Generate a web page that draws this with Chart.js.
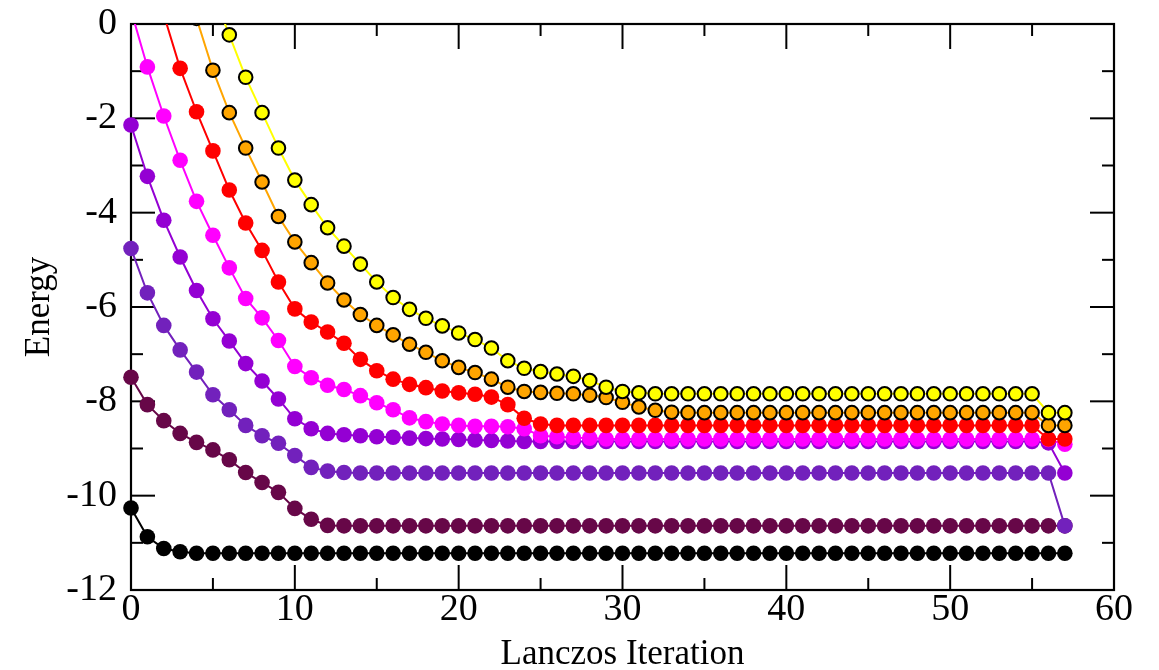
<!DOCTYPE html>
<html><head><meta charset="utf-8">
<script src="https://cdn.jsdelivr.net/npm/chart.js@4.4.0/dist/chart.umd.min.js"></script>
<style>html,body{margin:0;padding:0;background:#fff;}#wrap{width:1159px;height:670px;}</style>
</head><body><div id="wrap"><canvas id="c" width="1159" height="670"></canvas></div>
<script>
const iterations = [0,1,2,3,4,5,6,7,8,9,10,11,12,13,14,15,16,17,18,19,20,21,22,23,24,25,26,27,28,29,30,31,32,33,34,35,36,37,38,39,40,41,42,43,44,45,46,47,48,49,50,51,52,53,54,55,56,57];

const eig0 = [-10.26,-10.87,-11.12,-11.19,
 -11.22,-11.22,-11.22,-11.22,-11.22,-11.22,-11.22,-11.22,-11.22,-11.22,
 -11.22,-11.22,-11.22,-11.22,-11.22,-11.22,-11.22,-11.22,-11.22,-11.22,
 -11.22,-11.22,-11.22,-11.22,-11.22,-11.22,-11.22,-11.22,-11.22,-11.22,
 -11.22,-11.22,-11.22,-11.22,-11.22,-11.22,-11.22,-11.22,-11.22,-11.22,
 -11.22,-11.22,-11.22,-11.22,-11.22,-11.22,-11.22,-11.22,-11.22,-11.22,
 -11.22,-11.22,-11.22,-11.22];

const eig1 = [-7.49,-8.07,-8.41,-8.68,-8.87,-9.03,-9.24,-9.51,-9.72,-9.93,-10.27,-10.50,-10.63,
 -10.64,-10.64,-10.64,-10.64,-10.64,-10.64,-10.64,-10.64,-10.64,-10.64,
 -10.64,-10.64,-10.64,-10.64,-10.64,-10.64,-10.64,-10.64,-10.64,-10.64,
 -10.64,-10.64,-10.64,-10.64,-10.64,-10.64,-10.64,-10.64,-10.64,-10.64,
 -10.64,-10.64,-10.64,-10.64,-10.64,-10.64,-10.64,-10.64,-10.64,-10.64,
 -10.64,-10.64,-10.64,-10.64,-10.64];

const eig2 = [-4.76,-5.70,-6.39,-6.91,-7.38,-7.86,-8.18,-8.51,-8.73,-8.89,-9.15,-9.40,-9.48,-9.51,
 -9.52,-9.52,-9.52,-9.52,-9.52,-9.52,-9.52,-9.52,-9.52,-9.52,
 -9.52,-9.52,-9.52,-9.52,-9.52,-9.52,-9.52,-9.52,-9.52,-9.52,
 -9.52,-9.52,-9.52,-9.52,-9.52,-9.52,-9.52,-9.52,-9.52,-9.52,
 -9.52,-9.52,-9.52,-9.52,-9.52,-9.52,-9.52,-9.52,-9.52,-9.52,
 -9.52,-9.52,-9.52,
 -10.64];

const eig3 = [-2.14,-3.23,-4.16,-4.94,-5.65,-6.25,-6.72,-7.20,-7.57,-7.95,-8.37,-8.58,-8.68,-8.71,-8.73,-8.75,-8.76,-8.78,-8.79,-8.80,-8.81,-8.82,-8.83,-8.84,
 -8.85,-8.85,-8.85,-8.85,-8.85,-8.85,-8.85,-8.85,-8.85,-8.85,
 -8.85,-8.85,-8.85,-8.85,-8.85,-8.85,-8.85,-8.85,-8.85,-8.85,
 -8.85,-8.85,-8.85,-8.85,-8.85,-8.85,-8.85,-8.85,-8.85,-8.85,
 -8.85,-8.85,
 -8.88,-9.52];

const eig4 = [0.29,-0.91,-1.95,-2.89,-3.76,-4.48,-5.17,-5.82,-6.23,-6.71,-7.26,-7.50,-7.66,-7.75,-7.88,-8.03,-8.18,-8.35,-8.43,-8.48,-8.51,-8.53,-8.53,-8.54,-8.58,-8.73,-8.75,-8.77,-8.78,
 -8.80,-8.80,-8.80,-8.80,-8.80,-8.80,-8.80,-8.80,-8.80,-8.80,
 -8.80,-8.80,-8.80,-8.80,-8.80,-8.80,-8.80,-8.80,-8.80,-8.80,
 -8.80,-8.80,-8.80,-8.80,-8.80,-8.80,-8.80,
 -8.81,-8.91];

const eig5 = [null,null,0.20,-0.94,-1.86,-2.69,-3.52,-4.22,-4.80,-5.47,-6.04,-6.32,-6.53,-6.77,-7.11,-7.35,-7.53,-7.64,-7.71,-7.78,-7.82,-7.85,-7.91,-8.07,-8.36,-8.48,
 -8.51,-8.51,-8.51,-8.51,-8.51,-8.51,-8.51,-8.51,-8.51,-8.51,
 -8.51,-8.51,-8.51,-8.51,-8.51,-8.51,-8.51,-8.51,-8.51,-8.51,
 -8.51,-8.51,-8.51,-8.51,-8.51,-8.51,-8.51,-8.51,-8.51,-8.51,
 -8.80,-8.80];

const eig6 = [null,null,null,null,0.12,-0.98,-1.88,-2.63,-3.35,-4.08,-4.62,-5.06,-5.49,-5.85,-6.16,-6.39,-6.59,-6.79,-6.96,-7.14,-7.28,-7.39,-7.53,-7.70,-7.79,-7.81,-7.83,-7.84,-7.87,-7.92,-8.02,-8.12,-8.19,-8.23,
 -8.24,-8.24,-8.24,-8.24,-8.24,-8.24,-8.24,-8.24,-8.24,-8.24,
 -8.24,-8.24,-8.24,-8.24,-8.24,-8.24,-8.24,-8.24,-8.24,-8.24,
 -8.24,-8.24,
 -8.51,-8.51];

const eig7 = [null,null,null,null,null,0.65,-0.23,-1.13,-1.88,-2.63,-3.31,-3.83,-4.32,-4.71,-5.09,-5.47,-5.80,-6.05,-6.24,-6.40,-6.55,-6.69,-6.87,-7.14,-7.30,-7.37,-7.42,-7.47,-7.56,-7.70,-7.79,-7.82,
 -7.84,-7.84,-7.84,-7.84,-7.84,-7.84,-7.84,-7.84,-7.84,-7.84,
 -7.84,-7.84,-7.84,-7.84,-7.84,-7.84,-7.84,-7.84,-7.84,-7.84,
 -7.84,-7.84,-7.84,-7.84,
 -8.24,-8.24];

const xMajorTicks = [0,10,20,30,40,50,60];
const xMinorTicks = [5,15,25,35,45,55];
const yMajorTicks = [-12,-10,-8,-6,-4,-2,0];
const yMinorTicks = [-11,-9,-7,-5,-3,-1];

const seriesValues = [eig0,eig1,eig2,eig3,eig4,eig5,eig6,eig7];
const seriesColors = ['#000000','rgb(103,7,72)','rgb(114,33,188)','rgb(148,0,211)','#ff00ff','#ff0000','rgb(255,165,0)','#ffff00'];
const seriesOutlined = [false,false,false,false,false,false,true,true];

const FONT = "'Liberation Serif', 'DejaVu Serif', serif";

const datasets = seriesValues.map((vals, i) => ({
  label: 'E' + i,
  data: iterations.map((x, k) => ({x: x, y: vals[k]})),
  borderColor: seriesColors[i],
  backgroundColor: seriesColors[i],
  borderWidth: 2,
  pointRadius: seriesOutlined[i] ? 6.8 : 7.8,
  pointBorderWidth: seriesOutlined[i] ? 2 : 0,
  pointBorderColor: seriesOutlined[i] ? '#000000' : seriesColors[i],
  pointBackgroundColor: seriesColors[i],
  pointHoverRadius: seriesOutlined[i] ? 6.8 : 7.8,
  tension: 0,
  order: 10 - i,
  clip: {left: 12, right: 12, top: 0, bottom: 12}
}));

const axisDecor = {
  id: 'axisDecor',
  beforeDatasetsDraw(chart) {
    const {ctx, chartArea: {left, right, top, bottom}, scales: {x, y}} = chart;
    ctx.save();
    ctx.strokeStyle = '#000';
    ctx.lineWidth = 2;
    const seg = (x1, y1, x2, y2) => { ctx.beginPath(); ctx.moveTo(x1, y1); ctx.lineTo(x2, y2); ctx.stroke(); };
    xMajorTicks.forEach(v => { const p = x.getPixelForValue(v); seg(p, bottom, p, bottom - 25); seg(p, top, p, top + 25); });
    xMinorTicks.forEach(v => { const p = x.getPixelForValue(v); seg(p, bottom, p, bottom - 12); seg(p, top, p, top + 12); });
    yMajorTicks.forEach(v => { const p = y.getPixelForValue(v); seg(left, p, left + 24, p); seg(right, p, right - 24, p); });
    yMinorTicks.forEach(v => { const p = y.getPixelForValue(v); seg(left, p, left + 12, p); seg(right, p, right - 12, p); });
    ctx.lineWidth = 2.2;
    ctx.strokeRect(left, top, right - left, bottom - top);
    ctx.restore();
  }
};

new Chart(document.getElementById('c'), {
  type: 'line',
  data: {datasets},
  options: {
    responsive: false,
    devicePixelRatio: 1,
    animation: false,
    events: [],
    layout: {padding: {left: 0, top: 24, right: 45, bottom: 0}},
    plugins: {legend: {display: false}, tooltip: {enabled: false}},
    scales: {
      x: {
        type: 'linear', min: 0, max: 60,
        grid: {display: false, drawTicks: false},
        border: {display: false},
        ticks: {stepSize: 10, color: '#000', padding: 1, maxRotation: 0, font: {family: FONT, size: 38, lineHeight: 1}, callback: v => String(v)},
        title: {display: true, text: 'Lanczos Iteration', color: '#000', font: {family: FONT, size: 35, lineHeight: 1}, padding: {top: 0, bottom: -2}},
        afterFit(s) { s.height = 80; s.paddingLeft = 0; s.paddingRight = 0; }
      },
      y: {
        type: 'linear', min: -12, max: 0,
        grid: {display: false, drawTicks: false},
        border: {display: false},
        ticks: {stepSize: 2, color: '#000', padding: 14, font: {family: FONT, size: 38, lineHeight: 1}, callback: v => String(v)},
        title: {display: true, text: 'Energy', color: '#000', font: {family: FONT, size: 35, lineHeight: 1}, padding: {top: 22.5, bottom: 0}},
        afterFit(s) { s.width = 131; s.paddingTop = 0; s.paddingBottom = 0; }
      }
    }
  },
  plugins: [axisDecor]
});
</script>
</body></html>
